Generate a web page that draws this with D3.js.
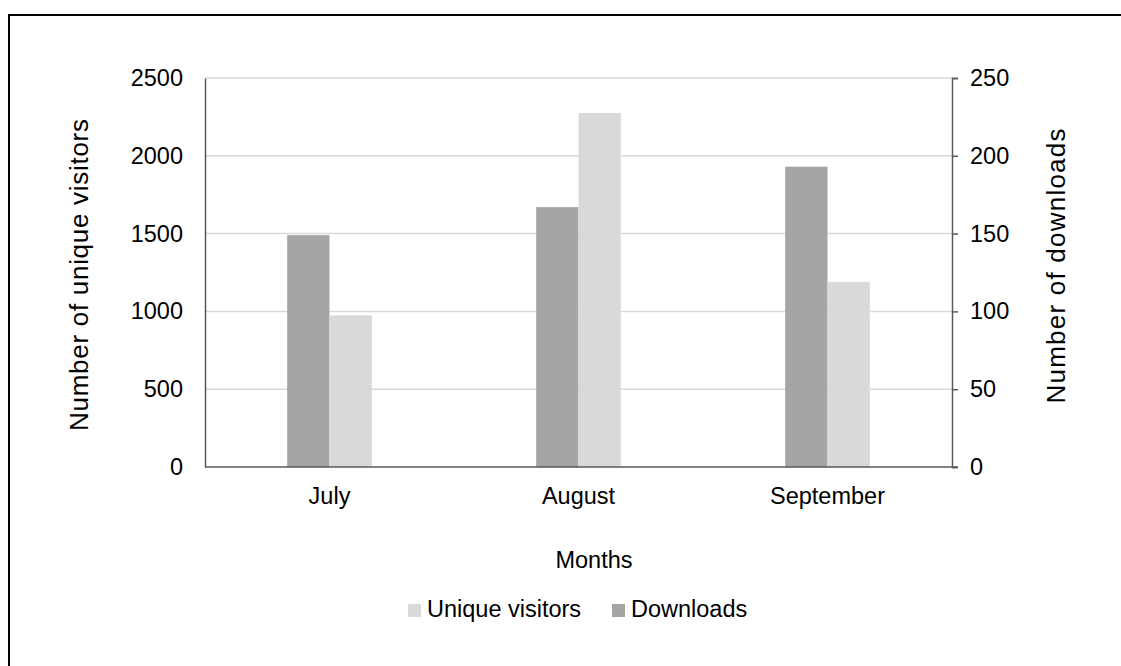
<!DOCTYPE html>
<html>
<head>
<meta charset="utf-8">
<script src="https://cdn.jsdelivr.net/npm/d3@7"></script>
<style>
  html, body { margin: 0; padding: 0; background: #fff; }
  svg { display: block; font-family: "Liberation Sans", Arial, sans-serif; }
</style>
</head>
<body>
<svg id="chart" width="1121" height="666"></svg>
<script>
// Monthly site statistics
const months = ["July", "August", "September"];
const uniqueVisitors = [975, 2275, 1190];   // left axis
const downloads = [149, 167, 193];          // right axis
const leftTicks = [0, 500, 1000, 1500, 2000, 2500];
const rightTicks = [0, 50, 100, 150, 200, 250];

const FONT = "Liberation Sans, Arial, sans-serif";
const svg = d3.select("#chart");

// Outer frame (runs off the right and bottom edges)
svg.append("rect")
  .attr("x", 9).attr("y", 15).attr("width", 1300).attr("height", 800)
  .attr("fill", "none").attr("stroke", "#000").attr("stroke-width", 2);

const plot = { left: 205, right: 952, top: 78, bottom: 467 };

const x = d3.scaleBand().domain(months).range([plot.left, plot.right]).paddingInner(0.66).paddingOuter(0.33);
const yL = d3.scaleLinear().domain([0, 2500]).range([plot.bottom, plot.top]);
const yR = d3.scaleLinear().domain([0, 250]).range([plot.bottom, plot.top]);
const half = x.bandwidth() / 2;

// Gridlines
svg.append("g").selectAll("line").data(leftTicks.filter(d => d > 0)).join("line")
  .attr("x1", plot.left).attr("x2", plot.right)
  .attr("y1", d => yL(d)).attr("y2", d => yL(d))
  .attr("stroke", "#d9d9d9").attr("stroke-width", 1.5);

// Downloads bars (dark)
svg.append("g").selectAll("rect").data(months).join("rect")
  .attr("x", d => x(d)).attr("width", half)
  .attr("y", (d, i) => yR(downloads[i]))
  .attr("height", (d, i) => plot.bottom - yR(downloads[i]))
  .attr("fill", "#a5a5a5");

// Unique visitors bars (light)
svg.append("g").selectAll("rect").data(months).join("rect")
  .attr("x", d => x(d) + half).attr("width", half)
  .attr("y", (d, i) => yL(uniqueVisitors[i]))
  .attr("height", (d, i) => plot.bottom - yL(uniqueVisitors[i]))
  .attr("fill", "#d9d9d9");

function styleText(g) {
  g.attr("font-size", null).attr("font-family", null);
  g.selectAll("text").attr("font-size", 23.5).attr("fill", "#000").attr("font-family", FONT);
}

// Left axis
const axL = svg.append("g").attr("transform", `translate(${plot.left},0)`)
  .call(d3.axisLeft(yL).tickValues(leftTicks).tickFormat(d3.format("d")).tickSize(0).tickPadding(22));
axL.select(".domain").attr("stroke", "#595959").attr("stroke-width", 1.5);
styleText(axL);

// Right axis
const axR = svg.append("g").attr("transform", `translate(${plot.right},0)`)
  .call(d3.axisRight(yR).tickValues(rightTicks).tickFormat(d3.format("d")).tickSize(6).tickPadding(12));
axR.select(".domain").attr("stroke", "#595959").attr("stroke-width", 1.5);
axR.selectAll(".tick line").attr("stroke", "#595959").attr("stroke-width", 1.5);
styleText(axR);

// Bottom axis
const axB = svg.append("g").attr("transform", `translate(0,${plot.bottom})`)
  .call(d3.axisBottom(x).tickSize(0).tickPadding(20));
axB.select(".domain").attr("d", `M${plot.left},0H${plot.right + 6}`)
  .attr("stroke", "#595959").attr("stroke-width", 1.5);
styleText(axB);

// Axis titles
svg.append("text").attr("transform", "translate(88,275) rotate(-90)")
  .attr("text-anchor", "middle").attr("font-size", 26)
  .attr("textLength", 312).attr("lengthAdjust", "spacing")
  .text("Number of unique visitors");
svg.append("text").attr("transform", "translate(1065,266) rotate(-90)")
  .attr("text-anchor", "middle").attr("font-size", 26)
  .attr("textLength", 275).attr("lengthAdjust", "spacing")
  .text("Number of downloads");
svg.append("text").attr("x", 594).attr("y", 568)
  .attr("text-anchor", "middle").attr("font-size", 23.5).text("Months");

// Legend
const legendItems = [
  { label: "Unique visitors", color: "#d9d9d9", x: 408 },
  { label: "Downloads", color: "#a5a5a5", x: 612 }
];
const lg = svg.append("g").selectAll("g").data(legendItems).join("g")
  .attr("transform", d => `translate(${d.x},604)`);
lg.append("rect").attr("width", 13).attr("height", 13).attr("fill", d => d.color);
lg.append("text").attr("x", 19).attr("y", 13).attr("font-size", 23.5).text(d => d.label);
</script>
</body>
</html>
